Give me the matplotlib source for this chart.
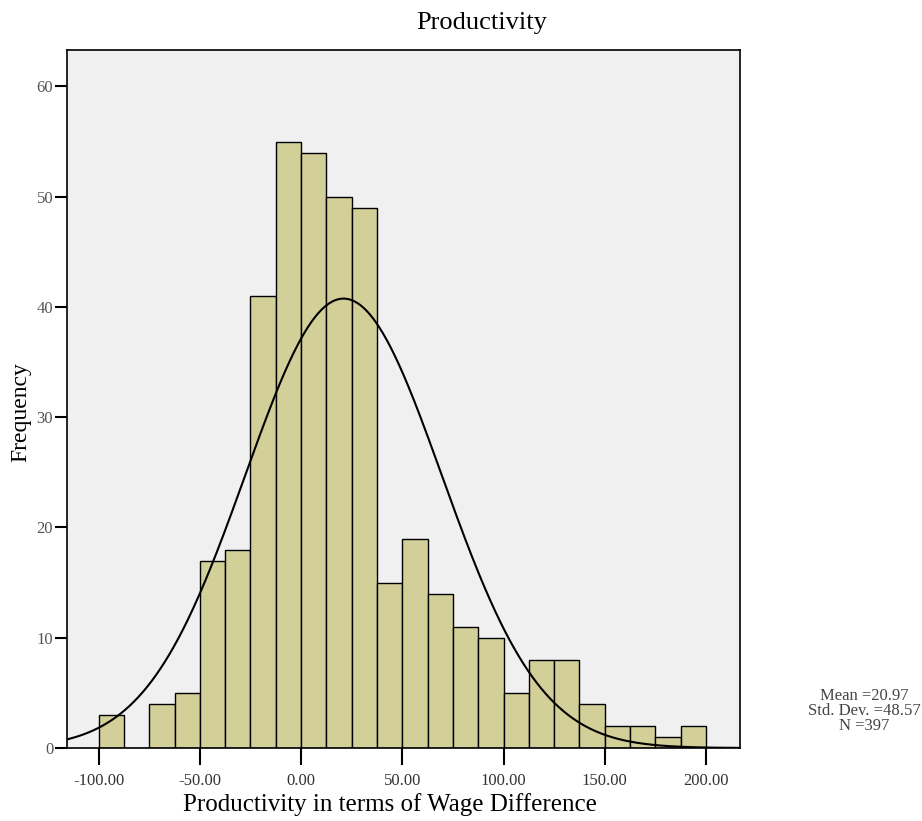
import numpy as np
import matplotlib
matplotlib.use("Agg")
import matplotlib.pyplot as plt

# histogram bins (width 12.5, starting at -100) and counts
bin_edges = np.arange(-100, 200.1, 12.5)
counts = [3, 0, 4, 5, 17, 18, 41, 55, 54, 50, 49, 15,
          19, 14, 11, 10, 5, 8, 8, 4, 2, 2, 1, 2]

mean = 20.97
std = 48.57
n = 397

x_ticks = [-100, -50, 0, 50, 100, 150, 200]
y_ticks = [0, 10, 20, 30, 40, 50, 60]

plt.rcParams["font.family"] = ["Liberation Serif", "DejaVu Serif"]

fig = plt.figure(figsize=(9.22, 8.21), dpi=100)
ax = fig.add_axes([0.0727, 0.0889, 0.7299, 0.8501])
ax.set_facecolor("#f0f0f0")

width = bin_edges[1] - bin_edges[0]
ax.bar(bin_edges[:-1], counts, width=width, align="edge",
       color="#d3cf99", edgecolor="black", linewidth=1.0, zorder=2)

# normal curve scaled to the histogram
xs = np.linspace(-116, 217, 600)
ys = n * width / (std * np.sqrt(2 * np.pi)) * np.exp(-0.5 * ((xs - mean) / std) ** 2)
ax.plot(xs, ys, color="black", linewidth=1.5, zorder=3)

ax.set_xlim(-115.6, 216.8)
ax.set_ylim(0, 63.3)
ax.set_xticks(x_ticks)
ax.set_xticklabels([f"{v:.2f}" for v in x_ticks])
ax.set_yticks(y_ticks)
ax.tick_params(axis="x", direction="out", length=12, width=1.5,
               labelsize=12, labelcolor="#333333", pad=6)
ax.tick_params(axis="y", direction="out", length=9, width=1.5,
               labelsize=12, labelcolor="#555555", pad=1)
for sp in ax.spines.values():
    sp.set_linewidth(1.2)

fig.suptitle("Productivity", x=0.522, y=0.972, va="center", fontsize=19)
ax.set_xlabel("Productivity in terms of Wage Difference", fontsize=18,
              labelpad=3, x=0.48)
ax.set_ylabel("Frequency", fontsize=17, labelpad=4, y=0.481)

fig.text(0.937, 0.134, f"Mean ={mean:.2f}\nStd. Dev. ={std:.2f}\nN ={n}",
         ha="center", va="center", fontsize=12, color="#444444",
         linespacing=0.95)

fig.savefig("out.png", dpi=100)
